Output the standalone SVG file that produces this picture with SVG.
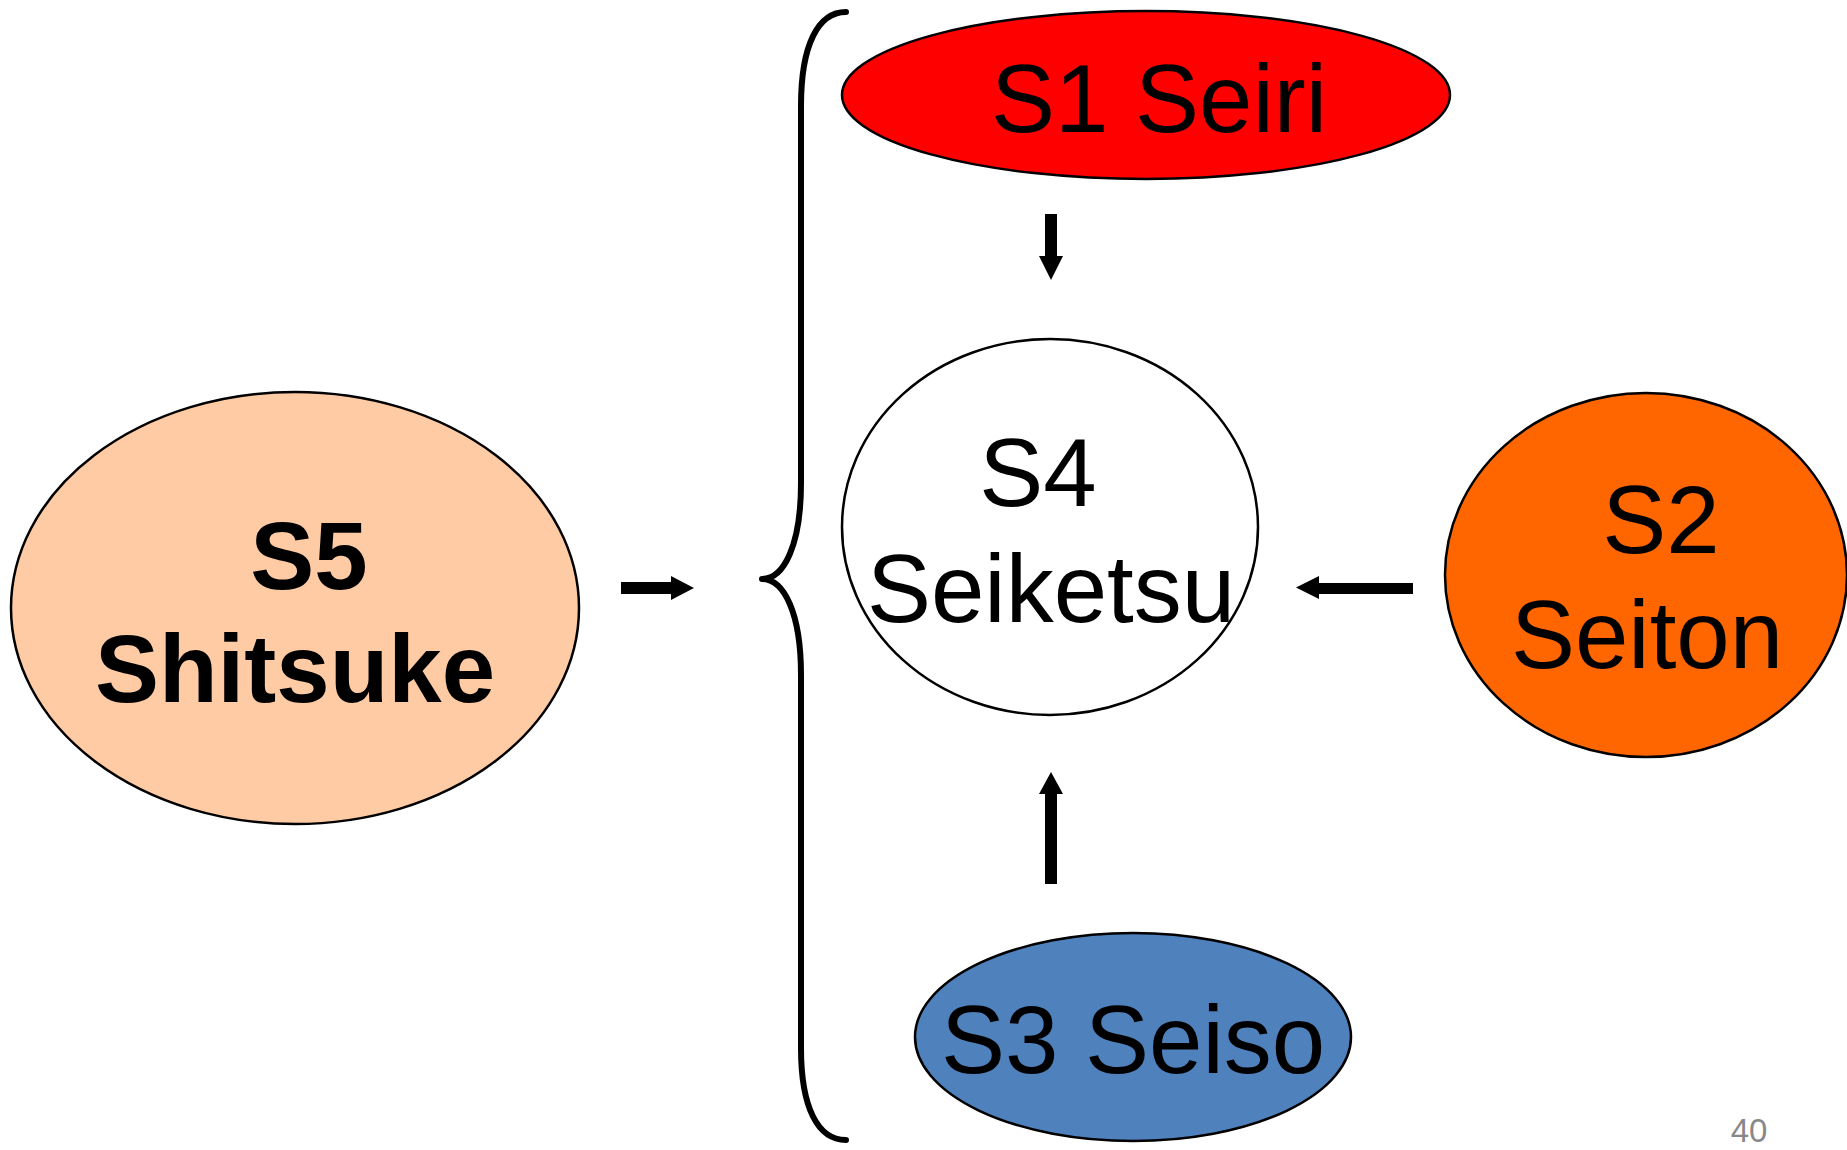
<svg xmlns="http://www.w3.org/2000/svg" width="1847" height="1150" viewBox="0 0 1847 1150">
<style>
.node{stroke:#000;stroke-width:2.5}
.t{font-family:"Liberation Sans",Arial,sans-serif;font-size:96px;fill:#000;text-anchor:middle}
.b{font-weight:bold}
.arr{fill:#000}
.brace{fill:none;stroke:#000;stroke-width:6;stroke-linecap:round;stroke-linejoin:round}
</style>
<rect width="1847" height="1150" fill="#fff"/>
<g id="connectors">
<polygon class="arr" points="621,582 671,582 671,576 694,588 671,600 671,594 621,594"/>
<polygon class="arr" points="1045,214 1057,214 1057,256 1063,256 1051,280 1039,256 1045,256"/>
<polygon class="arr" points="1413,583 1413,594 1319,594 1319,599 1296,587.5 1319,576 1319,583"/>
<polygon class="arr" points="1045,884 1057,884 1057,794 1063,794 1051,772 1039,794 1045,794"/>
<path class="brace" d="M846 12 C818 12 801 45 801 106 L801 483 C801 545 784 579 762 579 C784 579 801 613 801 675 L801 1048 C801 1108 818 1140 846 1140"/>
</g>
<g id="s1">
<ellipse class="node" cx="1146" cy="95" rx="304" ry="84" fill="#FF0000"/>
<text class="t" x="1159" y="132">S1 Seiri</text>
</g>
<g id="s4">
<ellipse class="node" cx="1050" cy="527" rx="208" ry="188" fill="#FFFFFF"/>
<text class="t" x="1038" y="506">S4</text>
<text class="t" x="1051" y="622">Seiketsu</text>
</g>
<g id="s2">
<ellipse class="node" cx="1646" cy="575" rx="201" ry="182" fill="#FF6600"/>
<text class="t" x="1661" y="553">S2</text>
<text class="t" x="1647" y="668">Seiton</text>
</g>
<g id="s5">
<ellipse class="node" cx="295" cy="608" rx="284" ry="216" fill="#FFCBA4"/>
<text class="t b" x="309" y="589">S5</text>
<text class="t b" x="295" y="702">Shitsuke</text>
</g>
<g id="s3">
<ellipse class="node" cx="1133" cy="1037" rx="218" ry="104" fill="#4F81BD"/>
<text class="t" x="1133" y="1073">S3 Seiso</text>
</g>
<text x="1749" y="1142" font-family="Liberation Sans,Arial,sans-serif" font-size="33" fill="#888888" text-anchor="middle">40</text>
</svg>
